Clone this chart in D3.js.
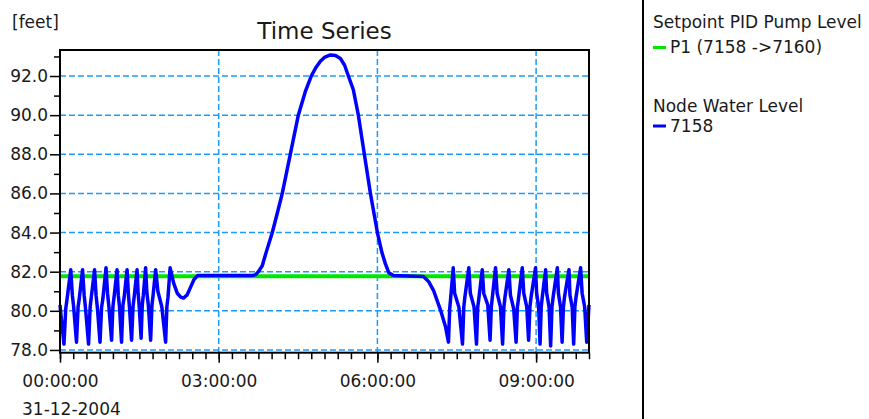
<!DOCTYPE html>
<html>
<head>
<meta charset="utf-8">
<script src="https://cdn.jsdelivr.net/npm/d3@7"></script>
<style>
  html, body { margin: 0; padding: 0; background: #fff; }
  svg { display: block; font-family: "DejaVu Sans", sans-serif; }
</style>
</head>
<body>
<svg id="chart" width="869" height="419"></svg>
<script>
// chart data
var startDate = new Date(2004, 11, 31, 0, 0, 0);
var spanMinutes = 600;
var yMajorTicks = [78, 80, 82, 84, 86, 88, 90, 92];
var yMinorTicks = [79, 81, 83, 85, 87, 89, 91, 93];
var legendTitles = ['Setpoint PID Pump Level', 'Node Water Level'];
var legendLabels = ['P1 (7158 ->7160)', '7158'];
var seriesColors = ['#00e600', '#0000ff'];

// setpoint [minute, feet]
var setpointLevel = [[0, 81.77], [600, 81.77]];

// node 7158 water level [minute, feet]
var nodeLevel = [
  [0, 80.3], [1.5, 79.6], [4.5, 78.3], [6.5, 80.1], [8.0, 80.6], [12.2, 82.1],
  [14.0, 80.8], [15.5, 80.2], [18.7, 78.4], [20.5, 80.2], [21.8, 80.6], [25.6, 82.1],
  [27.4, 80.8], [29.0, 80.1], [32.4, 78.3], [34.2, 80.2], [35.5, 80.7], [39.2, 82.1],
  [40.9, 80.8], [42.5, 80.1], [45.4, 78.4], [47.2, 80.2], [48.6, 80.6], [52.2, 82.2],
  [53.9, 80.9], [55.5, 80.2], [58.5, 78.5], [60.0, 80.2], [61.3, 80.7], [64.7, 82.1],
  [66.1, 80.8], [67.5, 80.2], [69.8, 78.4], [71.4, 80.3], [72.8, 80.7], [76.1, 82.1],
  [77.5, 80.9], [78.9, 80.1], [81.2, 78.5], [82.8, 80.2], [84.1, 80.7], [87.4, 82.1],
  [88.6, 80.9], [89.9, 80.2], [92.0, 78.6], [93.3, 80.3], [94.5, 80.8], [97.1, 82.2],
  [98.6, 80.9], [100.2, 80.3], [102.8, 78.5], [104.3, 80.3], [105.6, 80.8], [108.5, 82.1],
  [111.0, 81.0], [115.5, 80.2], [119.8, 78.4], [121.2, 80.2], [122.5, 80.7], [124.9, 82.2],
  [129, 81.4], [133, 80.9], [137, 80.7], [140, 80.65], [144, 80.8], [148, 81.2],
  [152, 81.6], [156, 81.8], [218, 81.8], [222, 81.85], [225, 82.0], [229.4, 82.3],
  [233.9, 83.0], [240.8, 84.0], [246.5, 85.0], [252.1, 86.0], [261.2, 88.0], [270.3, 90.0],
  [278.2, 91.2], [285.0, 92.0], [290.5, 92.45], [295.3, 92.75], [300.5, 92.97], [306.6, 93.08],
  [312.5, 93.05], [318.0, 92.9], [322.8, 92.55], [327.1, 92.0], [332.7, 91.3], [338.4, 90.0],
  [345.2, 88.0], [352.1, 86.0], [360.0, 84.0], [365.0, 83.0], [369.1, 82.4], [372.9, 81.95],
  [378.2, 81.8], [412.2, 81.75], [418, 81.5], [423.6, 81.05], [431.5, 80.05], [437.2, 79.2],
  [440.6, 78.4], [442.0, 80.1], [443.0, 80.6], [446.0, 82.2], [447.6, 80.9], [452.4, 80.2],
  [456.5, 78.3], [458.0, 80.2], [459.2, 80.7], [463.7, 82.2], [465.4, 80.9], [469.6, 80.2],
  [472.4, 78.3], [473.8, 80.2], [475.0, 80.6], [478.9, 82.1], [480.6, 80.9], [485.2, 80.3],
  [487.8, 78.5], [489.2, 80.2], [490.4, 80.7], [494.0, 82.2], [495.8, 80.9], [499.6, 80.2],
  [502.0, 78.3], [503.5, 80.2], [504.7, 80.7], [509.1, 82.1], [510.9, 80.8], [514.6, 80.1],
  [517.3, 78.4], [518.8, 80.2], [520.0, 80.6], [524.3, 82.2], [526.0, 80.9], [529.4, 80.2],
  [531.5, 78.5], [533.0, 80.2], [534.3, 80.7], [539.4, 82.2], [540.6, 80.9], [542.9, 80.2],
  [544.5, 78.3], [545.8, 80.2], [547.0, 80.7], [550.8, 82.1], [552.0, 80.9], [554.7, 80.2],
  [556.5, 78.2], [558.0, 80.2], [559.3, 80.7], [564.1, 82.2], [565.3, 80.9], [567.7, 80.2],
  [569.5, 78.4], [571.0, 80.2], [572.2, 80.7], [577.3, 82.1], [578.4, 80.8], [580.9, 80.2],
  [582.6, 78.3], [584.0, 80.2], [585.3, 80.7], [590.5, 82.2], [592.2, 80.9], [595.1, 80.2],
  [597.4, 78.4], [600, 80.3]
];

(function() {
  'use strict';

  var plot = { left: 60, right: 589, top: 50, bottom: 352.7 };
  var textColor = '#1a1a1a';
  var gridColor = '#1a9cff';

  function toDate(m) {
    return new Date(startDate.getTime() + m * 60000);
  }

  var svg = d3.select('#chart');

  var x = d3.scaleTime()
      .domain([startDate, toDate(spanMinutes)])
      .range([plot.left, plot.right]);

  var y = d3.scaleLinear()
      .domain([77.86, 93.33])
      .range([plot.bottom, plot.top]);

  // grid
  var grid = svg.append('g')
      .attr('stroke', gridColor)
      .attr('stroke-width', 1.5)
      .attr('stroke-dasharray', '6,3');

  grid.selectAll('.hgrid')
      .data(yMajorTicks)
      .enter().append('line')
      .attr('x1', plot.left)
      .attr('x2', plot.right)
      .attr('y1', function(d) { return y(d); })
      .attr('y2', function(d) { return y(d); });

  grid.selectAll('.vgrid')
      .data(x.ticks(d3.timeHour.every(3)).filter(function(d) {
        return d > startDate && d < toDate(spanMinutes);
      }))
      .enter().append('line')
      .attr('x1', function(d) { return x(d); })
      .attr('x2', function(d) { return x(d); })
      .attr('y1', plot.top)
      .attr('y2', plot.bottom);

  // series
  var line = d3.line()
      .x(function(d) { return x(toDate(d[0])); })
      .y(function(d) { return y(d[1]); });

  svg.append('path')
      .datum(setpointLevel)
      .attr('fill', 'none')
      .attr('stroke', seriesColors[0])
      .attr('stroke-width', 4)
      .attr('d', line);

  svg.append('path')
      .datum(nodeLevel)
      .attr('fill', 'none')
      .attr('stroke', seriesColors[1])
      .attr('stroke-width', 3.5)
      .attr('stroke-linejoin', 'round')
      .attr('d', line);

  // frame
  svg.append('rect')
      .attr('x', plot.left)
      .attr('y', plot.top)
      .attr('width', plot.right - plot.left)
      .attr('height', plot.bottom - plot.top)
      .attr('fill', 'none')
      .attr('stroke', '#000')
      .attr('stroke-width', 2);

  // axes
  function styleAxis(g) {
    g.attr('font-family', null).attr('font-size', null);
    g.select('.domain').remove();
    g.selectAll('line').attr('stroke', '#000').attr('stroke-width', 1.5);
    g.selectAll('text')
      .attr('fill', textColor)
      .style('font-size', '17px');
  }

  svg.append('g')
      .attr('transform', 'translate(' + plot.left + ',0)')
      .call(d3.axisLeft(y).tickValues(yMinorTicks).tickSize(6).tickFormat(''))
      .call(styleAxis);

  svg.append('g')
      .attr('transform', 'translate(' + plot.left + ',0)')
      .call(d3.axisLeft(y).tickValues(yMajorTicks).tickSize(10)
            .tickPadding(2).tickFormat(d3.format('.1f')))
      .call(styleAxis);

  svg.append('g')
      .attr('transform', 'translate(0,' + plot.bottom + ')')
      .call(d3.axisBottom(x).ticks(d3.timeMinute.every(15)).tickSize(6.5)
            .tickFormat(''))
      .call(styleAxis);

  svg.append('g')
      .attr('transform', 'translate(0,' + plot.bottom + ')')
      .call(d3.axisBottom(x).ticks(d3.timeHour.every(3)).tickSize(10)
            .tickPadding(12).tickFormat(d3.timeFormat('%H:%M:%S')))
      .call(styleAxis);

  // date under first tick
  svg.append('text')
      .attr('x', x(startDate) - 38)
      .attr('y', 415)
      .attr('fill', textColor)
      .style('font-size', '17px')
      .text(d3.timeFormat('%d-%m-%Y')(startDate));

  // title and unit
  svg.append('text')
      .attr('x', (plot.left + plot.right) / 2)
      .attr('y', 39)
      .attr('text-anchor', 'middle')
      .attr('fill', textColor)
      .style('font-size', '23px')
      .text('Time Series');

  svg.append('text')
      .attr('x', 12)
      .attr('y', 28)
      .attr('fill', textColor)
      .style('font-size', '17px')
      .text('[feet]');

  // legend
  svg.append('line')
      .attr('x1', 643).attr('x2', 643)
      .attr('y1', 0).attr('y2', 419)
      .attr('stroke', '#000')
      .attr('stroke-width', 2);

  var titleY = [28.3, 111.7];
  var entryY = [53, 131.5];

  var legend = svg.selectAll('.legend')
      .data(legendTitles)
      .enter().append('g')
      .attr('class', 'legend');

  legend.append('text')
      .attr('x', 653)
      .attr('y', function(d, i) { return titleY[i]; })
      .attr('fill', textColor)
      .style('font-size', '17px')
      .text(function(d) { return d; });

  legend.append('line')
      .attr('x1', 653)
      .attr('x2', 666)
      .attr('y1', function(d, i) { return entryY[i] - 5.5; })
      .attr('y2', function(d, i) { return entryY[i] - 5.5; })
      .attr('stroke', function(d, i) { return seriesColors[i]; })
      .attr('stroke-width', 3);

  legend.append('text')
      .attr('x', 670)
      .attr('y', function(d, i) { return entryY[i]; })
      .attr('fill', textColor)
      .style('font-size', '17px')
      .text(function(d, i) { return legendLabels[i]; });
})();
</script>
</body>
</html>
